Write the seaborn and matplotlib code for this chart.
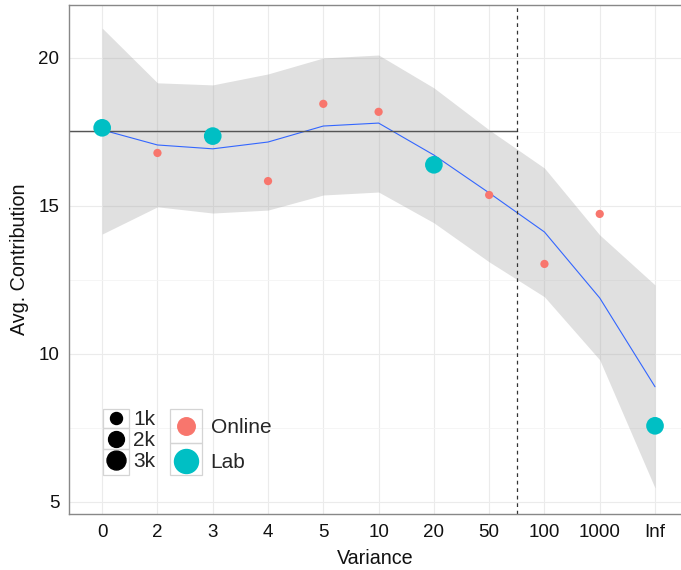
import numpy as np
import pandas as pd
import matplotlib
matplotlib.use("Agg")
import matplotlib.pyplot as plt
from matplotlib.lines import Line2D
from matplotlib.patches import Rectangle
import seaborn as sns

# ---- data ----
categories = ["0", "2", "3", "4", "5", "10", "20", "50", "100", "1000", "Inf"]

online_cat = ["2", "4", "5", "10", "50", "100", "1000"]
online_val = [16.79, 15.84, 18.45, 18.18, 15.37, 13.04, 14.73]
online_n = [300, 300, 300, 300, 300, 300, 300]

lab_cat = ["0", "3", "20", "Inf"]
lab_val = [17.64, 17.36, 16.39, 7.57]
lab_n = [2550, 2550, 2550, 2550]

fit_mean = [17.57, 17.06, 16.93, 17.16, 17.70, 17.80, 16.72, 15.44, 14.12, 11.89, 8.89]
fit_upper = [21.01, 19.16, 19.09, 19.46, 20.00, 20.10, 18.99, 17.57, 16.28, 14.02, 12.33]
fit_lower = [14.05, 14.97, 14.76, 14.86, 15.37, 15.47, 14.43, 13.11, 11.93, 9.80, 5.47]

baseline = 17.53
cutoff_pos = 7.5

size_legend_vals = [1000, 2000, 3000]
size_legend_labels = ["1k", "2k", "3k"]
group_labels = ["Online", "Lab"]
group_colors = {"Online": "#F8766D", "Lab": "#00BFC4"}

# ---- build table ----
pos = {c: i for i, c in enumerate(categories)}
df = pd.DataFrame({
    "x": [pos[c] for c in online_cat] + [pos[c] for c in lab_cat],
    "y": online_val + lab_val,
    "n": online_n + lab_n,
    "group": ["Online"] * len(online_cat) + ["Lab"] * len(lab_cat),
})
fit = pd.DataFrame({"x": np.arange(len(categories)), "mean": fit_mean,
                    "lo": fit_lower, "hi": fit_upper})

sns.set_theme(style="white")
plt.rcParams["font.family"] = ["Liberation Sans", "DejaVu Sans"]

fig = plt.figure(figsize=(6.81, 5.70), dpi=100)
ax = fig.add_axes([69 / 681, 1 - 514 / 570, 612 / 681, 509 / 570])

# grid
ax.set_axisbelow(True)
ax.set_yticks([7.5, 12.5, 17.5], minor=True)
ax.grid(True, which="major", color="#ebebeb", lw=0.8)
ax.grid(True, which="minor", axis="y", color="#f4f4f4", lw=0.6)

# ribbon + fit line
ax.fill_between(fit["x"], fit["lo"], fit["hi"], color="#999999", alpha=0.3,
                lw=0, zorder=1)
sns.lineplot(data=fit, x="x", y="mean", color="#3366FF", lw=0.8, ax=ax,
             zorder=2)

# reference lines
ax.plot([-0.6, cutoff_pos], [baseline, baseline], color="#555555", lw=1.0,
        zorder=2)
ax.axvline(cutoff_pos, color="#333333", lw=0.9, ls=(0, (3, 3)), zorder=2)

# points: marker area linear in n
size_norm = (0, 3000)
size_range = (18.4, 187.0)


def area_for(n):
    return size_range[0] + (n - size_norm[0]) / (size_norm[1] - size_norm[0]) * (
        size_range[1] - size_range[0])


sns.scatterplot(data=df, x="x", y="y", hue="group", palette=group_colors,
                size="n", sizes=size_range, size_norm=size_norm,
                linewidth=0, legend=False, ax=ax, zorder=3)

ax.set_xlim(-0.6, 10.47)
ax.set_ylim(4.59, 21.79)
ax.set_xticks(range(len(categories)))
ax.set_xticklabels(categories)
ax.set_yticks([5, 10, 15, 20])
ax.set_yticklabels(["5", "10", "15", "20"])
ax.tick_params(axis="both", which="major", length=3.5, width=0.8,
               color="#555555", labelsize=13.5, labelcolor="#111111", pad=3.5)
ax.tick_params(axis="y", which="minor", length=0)
ax.set_xlabel("Variance", fontsize=14.2, color="#111111", labelpad=6)
ax.set_ylabel("Avg. Contribution", fontsize=14.2, color="#111111", labelpad=7)

for side in ["left", "bottom", "top"]:
    ax.spines[side].set_color("#888888")
    ax.spines[side].set_linewidth(1.0)
ax.spines["right"].set_visible(False)

# ---- legends ----
px = 0.72  # points per pixel at 100 dpi
size_handles = [Line2D([], [], ls="", marker="o", color="black",
                       markersize=np.sqrt(area_for(v)))
                for v in size_legend_vals]
leg1 = ax.legend(size_handles, size_legend_labels, loc="upper left",
                 bbox_to_anchor=(103 / 681, 1 - 410 / 570),
                 bbox_transform=fig.transFigure, frameon=False, fontsize=15,
                 handlelength=1.25, handletextpad=0.2, labelspacing=0.1,
                 borderpad=0.0, borderaxespad=0)
ax.add_artist(leg1)
col_handles = [Line2D([], [], ls="", marker="o", color=group_colors["Online"],
                      markersize=17.5 * px),
               Line2D([], [], ls="", marker="o", color=group_colors["Lab"],
                      markersize=24 * px)]
leg2 = ax.legend(col_handles, group_labels, loc="upper left",
                 bbox_to_anchor=(171 / 681, 1 - 418 / 570),
                 bbox_transform=fig.transFigure, frameon=False, fontsize=15,
                 handlelength=1.45, handletextpad=0.45, labelspacing=0.78,
                 borderpad=0.0, borderaxespad=0)

# key boxes
def key_box(x0, y0, x1, y1):
    fig.add_artist(Rectangle((x0 / 681, 1 - y1 / 570), (x1 - x0) / 681,
                             (y1 - y0) / 570, transform=fig.transFigure,
                             fill=False, ec="#d4d4d4", lw=0.9, zorder=4))

for (a, b) in [(409, 428), (428, 449), (449, 475)]:
    key_box(103, a, 129, b)
for (a, b) in [(409, 443), (443, 475)]:
    key_box(170, a, 202, b)

fig.savefig("out.png", dpi=100, facecolor="white")
